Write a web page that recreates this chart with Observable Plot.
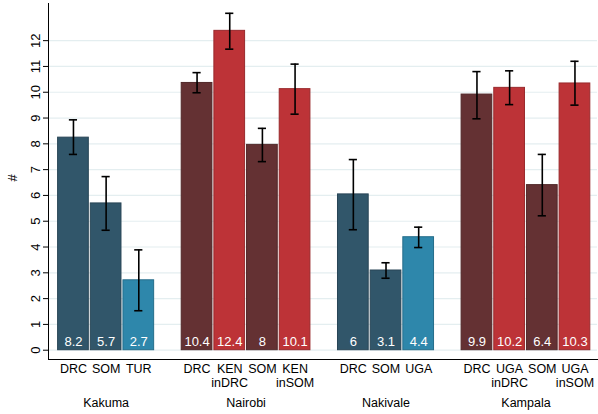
<!DOCTYPE html>
<html>
<head>
<meta charset="utf-8">
<script src="https://cdn.jsdelivr.net/npm/d3@7"></script>
<script src="https://cdn.jsdelivr.net/npm/@observablehq/plot@0.6"></script>
<style>
  html, body { margin: 0; padding: 0; background: #fff; }
  #chart svg { display: block; }
</style>
</head>
<body>
<div id="chart"></div>
<script>
// ---- data ----
const groups = ["Kakuma", "Nairobi", "Nakivale", "Kampala"];
const barGroup = ["Kakuma","Kakuma","Kakuma","Nairobi","Nairobi","Nairobi","Nairobi","Nakivale","Nakivale","Nakivale","Kampala","Kampala","Kampala","Kampala"];
const barCategory = ["DRC","SOM","TUR","DRC","KEN\ninDRC","SOM","KEN\ninSOM","DRC","SOM","UGA","DRC","UGA\ninDRC","SOM","UGA\ninSOM"];
const barKind = ["campRef","campRef","campHost","cityRef","cityHost","cityRef","cityHost","campRef","campRef","campHost","cityRef","cityHost","cityRef","cityHost"];
const meanValues = [8.24, 5.69, 2.71, 10.36, 12.38, 7.96, 10.12, 6.04, 3.09, 4.38, 9.91, 10.17, 6.40, 10.34];
const ciLow  = [7.59, 4.65, 1.53, 9.98, 11.67, 7.31, 9.15, 4.67, 2.79, 3.98, 8.97, 9.52, 5.21, 9.50];
const ciHigh = [8.93, 6.73, 3.89, 10.76, 13.06, 8.60, 11.09, 7.39, 3.39, 4.77, 10.80, 10.83, 7.59, 11.20];
const valueLabels = ["8.2","5.7","2.7","10.4","12.4","8","10.1","6","3.1","4.4","9.9","10.2","6.4","10.3"];
const yTicks = [0,1,2,3,4,5,6,7,8,9,10,11,12];
const kindDomain = ["campRef","campHost","cityRef","cityHost"];
const kindColors = ["#31566a","#2e87ab","#643133","#bd3337"];

// ---- layout in x-units (one unit = one bar slot) ----
const groupSpacing = 4.284;
const halfBar = 0.47;
const capHalf = 0.125;

const rows = meanValues.map((v, k) => {
  const g = groups.indexOf(barGroup[k]);
  const members = barGroup.map((b, j) => j).filter(j => barGroup[j] === barGroup[k]);
  const i = members.indexOf(k);
  const n = members.length;
  return {
    group: barGroup[k], category: barCategory[k], kind: barKind[k],
    value: v, lo: ciLow[k], hi: ciHigh[k], label: valueLabels[k],
    pos: g * groupSpacing + i - (n - 1) / 2
  };
});
const groupRows = groups.map((name, g) => ({name, pos: g * groupSpacing}));

const font = "'Liberation Sans', Arial, Helvetica, sans-serif";

const chart = Plot.plot({
  width: 598,
  height: 414,
  marginLeft: 48,
  marginRight: 1,
  marginTop: 3,
  marginBottom: 55,
  style: {fontFamily: font, fontSize: "12px", background: "#fff", color: "#000"},
  x: {type: "linear", domain: [-1.764, 3 * groupSpacing + 2.19], axis: null},
  y: {domain: [-0.36, 13.44], axis: null},
  color: {domain: kindDomain, range: kindColors},
  marks: [
    Plot.gridY(yTicks, {stroke: "#e4eef0", strokeOpacity: 1, strokeWidth: 1.2}),
    Plot.rectY(rows, {
      x1: d => d.pos - halfBar, x2: d => d.pos + halfBar,
      y1: 0, y2: "value",
      fill: "kind",
      stroke: d => d3.color(kindColors[kindDomain.indexOf(d.kind)]).darker(0.6).formatHex(),
      strokeWidth: 1
    }),
    Plot.ruleX(rows, {x: "pos", y1: "lo", y2: "hi", stroke: "#000", strokeWidth: 1.6}),
    Plot.ruleY(rows, {y: "lo", x1: d => d.pos - capHalf, x2: d => d.pos + capHalf, stroke: "#000", strokeWidth: 1.6}),
    Plot.ruleY(rows, {y: "hi", x1: d => d.pos - capHalf, x2: d => d.pos + capHalf, stroke: "#000", strokeWidth: 1.6}),
    Plot.text(rows, {x: "pos", y: 0, text: "label", fill: "#fff", fontSize: 13, dy: -8, lineAnchor: "middle"}),
    Plot.axisY(yTicks, {tickSize: 5, tickRotate: -90, tickPadding: 4, fontSize: 13, label: null}),
    Plot.frame({anchor: "left", stroke: "#000"}),
    Plot.frame({anchor: "bottom", stroke: "#000"}),
    Plot.text(["#"], {frameAnchor: "left", dx: -36, rotate: -90, fontSize: 13, text: d => d}),
    Plot.text(rows, {x: "pos", text: "category", frameAnchor: "bottom", dy: 4, lineAnchor: "top", lineHeight: 1.1, fontSize: 12.5}),
    Plot.text(groupRows, {x: "pos", text: "name", frameAnchor: "bottom", dy: 39, lineAnchor: "top", fontSize: 12.5})
  ]
});
document.getElementById("chart").appendChild(chart);
</script>
</body>
</html>
